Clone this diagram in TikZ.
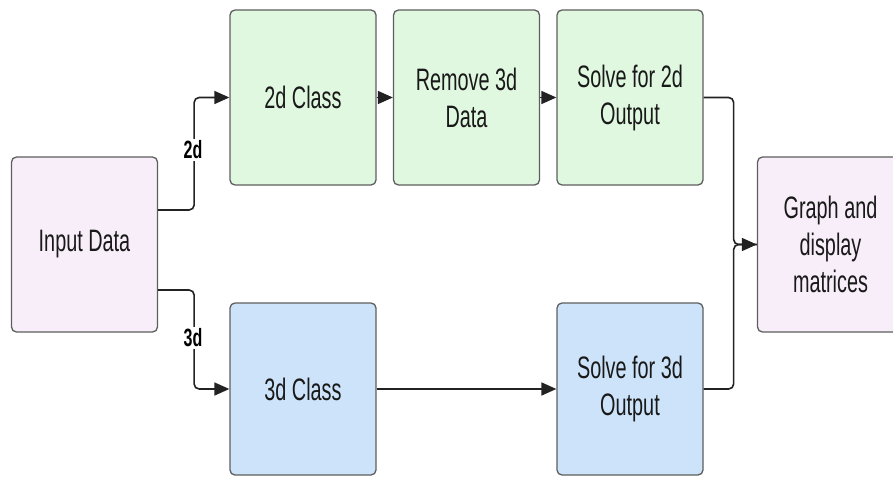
\documentclass[tikz,border=0pt]{standalone}
\usepackage{fontspec}
\setmainfont{Liberation Sans}[FakeStretch=0.64]
\usetikzlibrary{arrows.meta}
\definecolor{gfill}{HTML}{E0F8E0}
\definecolor{bfill}{HTML}{CDE3F9}
\definecolor{pfill}{HTML}{F8EEFA}
\definecolor{bord}{HTML}{5E5E5E}
\definecolor{lin}{HTML}{222222}
\tikzset{
  box/.style={draw=bord, line width=1.3pt, rounded corners=5pt, minimum width=146pt, minimum height=175pt, inner sep=0pt, align=center, text=black!90, font=\fontsize{31}{37}\selectfont},
  gbox/.style={box, fill=gfill},
  bbox/.style={box, fill=bfill, minimum height=172pt},
  pbox/.style={box, fill=pfill},
  conn/.style={draw=lin, line width=1.6pt, rounded corners=5pt, -{Triangle[length=15pt,width=13pt]}},
  plain/.style={draw=lin, line width=1.6pt, rounded corners=5pt},
  lbl/.style={fill=white, inner sep=1.5pt, font=\bfseries\fontsize{25}{28}\selectfont}
}
\begin{document}
\begin{tikzpicture}[x=1pt,y=-1pt]
\path[use as bounding box] (0,0) rectangle (893,476);
\node[pbox] (in) at (84.5,244.5) {Input Data};
\node[gbox] (c2) at (303,97.5) {2d Class};
\node[gbox] (rm) at (466.5,97.5) {Remove 3d\\Data};
\node[gbox] (s2) at (630,97.5) {Solve for 2d\\Output};
\node[bbox] (c3) at (303,389) {3d Class};
\node[bbox] (s3) at (630,389) {Solve for 3d\\Output};
\node[pbox] (gr) at (830.5,244.5) {Graph and\\display\\matrices};
\draw[conn] ([yshift=34.5pt]in.east) -- ++(36,0) |- (c2.west);
\draw[conn] ([yshift=-45.5pt]in.east) -- ++(36,0) |- (c3.west);
\node[lbl] (l2) at (193,150) {2d};
\node[lbl] (l3) at (193,338) {3d};
\draw[conn] (c2) -- (rm);
\draw[conn] (rm) -- (s2);
\draw[conn] (c3) -- (s3);
\draw[conn] (s2.east) -- ++(30,0) |- (gr.west);
\draw[plain] (s3.east) -- ++(30,0) |- (gr.west);
\end{tikzpicture}
\end{document}
